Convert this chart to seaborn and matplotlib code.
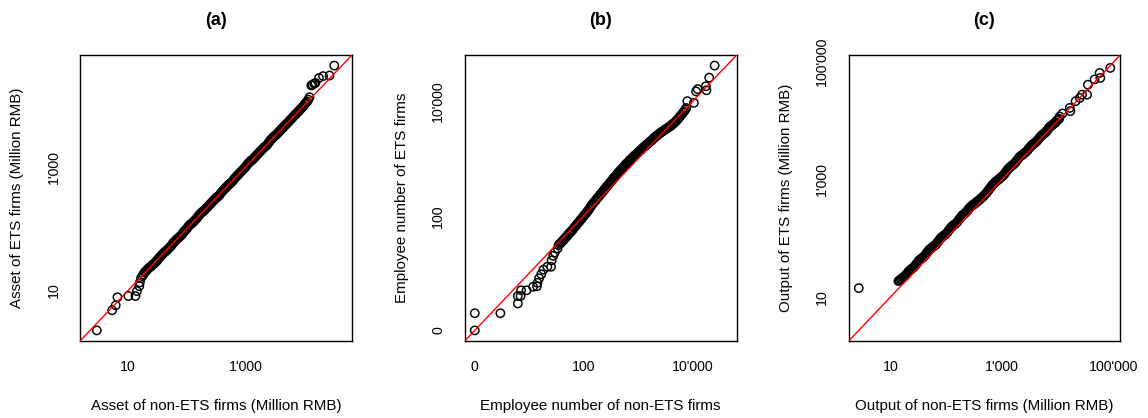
import numpy as np
import pandas as pd
import matplotlib
matplotlib.use("Agg")
import matplotlib.pyplot as plt
import seaborn as sns

sns.set_style("white")
plt.rcParams["font.family"] = ["Liberation Sans", "DejaVu Sans"]
plt.rcParams["text.color"] = "black"
plt.rcParams["axes.labelcolor"] = "black"

# Quantile pairs (log10 scale): non-ETS firms on x, ETS firms on y

# (a) Assets, million RMB
asset_non_ets = [
    0.47, 0.73, 0.79, 0.82, 1.005, 1.125, 1.15, 1.19, 1.20,
    1.22, 1.24, 1.26, 1.28, 1.30, 1.32, 1.34, 1.36, 1.38, 1.40,
    1.42, 1.44, 1.46, 1.48, 1.50, 1.52, 1.54, 1.56, 1.58, 1.60,
    1.62, 1.64, 1.66, 1.68, 1.70, 1.72, 1.74, 1.76, 1.78, 1.80,
    1.82, 1.84, 1.86, 1.88, 1.90, 1.92, 1.94, 1.96, 1.98, 2.00,
    2.02, 2.04, 2.06, 2.08, 2.10, 2.12, 2.14, 2.16, 2.18, 2.20,
    2.22, 2.24, 2.26, 2.28, 2.30, 2.32, 2.34, 2.36, 2.38, 2.40,
    2.42, 2.44, 2.46, 2.48, 2.50, 2.52, 2.54, 2.56, 2.58, 2.60,
    2.62, 2.64, 2.66, 2.68, 2.70, 2.72, 2.74, 2.76, 2.78, 2.80,
    2.82, 2.84, 2.86, 2.88, 2.90, 2.92, 2.94, 2.96, 2.98, 3.00,
    3.02, 3.04, 3.06, 3.08, 3.10, 3.12, 3.14, 3.16, 3.18, 3.20,
    3.22, 3.24, 3.26, 3.28, 3.30, 3.32, 3.34, 3.36, 3.38, 3.40,
    3.42, 3.44, 3.46, 3.48, 3.50, 3.52, 3.54, 3.56, 3.58, 3.60,
    3.62, 3.64, 3.66, 3.68, 3.70, 3.72, 3.74, 3.76, 3.78, 3.80,
    3.82, 3.84, 3.86, 3.88, 3.90, 3.92, 3.94, 3.96, 3.98, 4.00,
    4.02, 4.04, 4.06, 4.08,
    4.11, 4.13, 4.16, 4.18, 4.24, 4.31, 4.42, 4.50,
]
asset_ets = [
    0.355, 0.68, 0.76, 0.89, 0.91, 0.91, 0.99, 1.07, 1.13,
    1.20, 1.23, 1.26, 1.29, 1.31, 1.33, 1.35, 1.37, 1.38, 1.40,
    1.42, 1.43, 1.45, 1.47, 1.49, 1.52, 1.54, 1.56, 1.58, 1.60,
    1.62, 1.63, 1.65, 1.67, 1.69, 1.71, 1.73, 1.76, 1.78, 1.80,
    1.82, 1.84, 1.85, 1.87, 1.89, 1.91, 1.94, 1.96, 1.98, 2.00,
    2.03, 2.05, 2.07, 2.08, 2.10, 2.12, 2.14, 2.16, 2.18, 2.21,
    2.23, 2.25, 2.27, 2.28, 2.30, 2.32, 2.34, 2.36, 2.38, 2.40,
    2.42, 2.44, 2.46, 2.48, 2.50, 2.51, 2.53, 2.55, 2.58, 2.60,
    2.62, 2.64, 2.66, 2.68, 2.70, 2.72, 2.73, 2.75, 2.77, 2.80,
    2.82, 2.84, 2.86, 2.88, 2.90, 2.92, 2.94, 2.96, 2.98, 3.00,
    3.03, 3.05, 3.07, 3.09, 3.10, 3.12, 3.14, 3.16, 3.18, 3.20,
    3.22, 3.24, 3.26, 3.28, 3.30, 3.32, 3.33, 3.35, 3.38, 3.40,
    3.43, 3.45, 3.47, 3.49, 3.50, 3.52, 3.54, 3.56, 3.58, 3.60,
    3.62, 3.64, 3.66, 3.68, 3.70, 3.72, 3.74, 3.76, 3.78, 3.80,
    3.82, 3.84, 3.86, 3.88, 3.90, 3.92, 3.94, 3.96, 3.98, 4.01,
    4.03, 4.05, 4.08, 4.12,
    4.31, 4.32, 4.34, 4.35, 4.43, 4.46, 4.47, 4.63,
]

# (b) Employee numbers
employee_non_ets = [
    0.0, 0.0, 0.47, 0.79, 0.79, 0.84, 0.85, 0.95, 1.07, 1.14,
    1.15, 1.18, 1.22, 1.26, 1.33, 1.40, 1.41, 1.44, 1.47, 1.52,
    1.54, 1.56, 1.58, 1.60, 1.62, 1.64, 1.66, 1.68, 1.70, 1.72,
    1.74, 1.76, 1.78, 1.80, 1.82, 1.84, 1.86, 1.88, 1.90, 1.92,
    1.94, 1.96, 1.98, 2.00, 2.02, 2.04, 2.06, 2.08, 2.10, 2.12,
    2.14, 2.16, 2.18, 2.20, 2.22, 2.24, 2.26, 2.28, 2.30, 2.32,
    2.34, 2.36, 2.38, 2.40, 2.42, 2.44, 2.46, 2.48, 2.50, 2.52,
    2.54, 2.56, 2.58, 2.60, 2.62, 2.64, 2.66, 2.68, 2.70, 2.72,
    2.74, 2.76, 2.78, 2.80, 2.82, 2.84, 2.86, 2.88, 2.90, 2.92,
    2.94, 2.96, 2.98, 3.00, 3.02, 3.04, 3.06, 3.08, 3.10, 3.12,
    3.14, 3.16, 3.18, 3.20, 3.22, 3.24, 3.26, 3.28, 3.30, 3.32,
    3.34, 3.36, 3.38, 3.40, 3.42, 3.44, 3.46, 3.48, 3.50, 3.52,
    3.54, 3.56, 3.58, 3.60, 3.62, 3.64, 3.66, 3.68, 3.70, 3.72,
    3.74, 3.76, 3.78, 3.80, 3.82, 3.84, 3.86, 3.88,
    3.90, 4.02, 4.06, 4.09, 4.24, 4.25, 4.30, 4.40,
]
employee_ets = [
    0.0, 0.30, 0.30, 0.47, 0.60, 0.60, 0.70, 0.70, 0.76, 0.77,
    0.83, 0.91, 0.98, 1.06, 1.11, 1.11, 1.22, 1.30, 1.36, 1.43,
    1.49, 1.51, 1.53, 1.55, 1.57, 1.59, 1.62, 1.63, 1.65, 1.68,
    1.70, 1.72, 1.74, 1.76, 1.79, 1.81, 1.83, 1.86, 1.88, 1.90,
    1.93, 1.95, 1.97, 2.00, 2.02, 2.04, 2.07, 2.09, 2.12, 2.15,
    2.18, 2.20, 2.23, 2.25, 2.27, 2.30, 2.32, 2.34, 2.37, 2.39,
    2.41, 2.44, 2.46, 2.48, 2.51, 2.53, 2.55, 2.58, 2.60, 2.62,
    2.65, 2.67, 2.69, 2.71, 2.74, 2.76, 2.78, 2.80, 2.82, 2.84,
    2.86, 2.89, 2.91, 2.92, 2.94, 2.97, 2.98, 3.00, 3.02, 3.04,
    3.06, 3.07, 3.09, 3.11, 3.13, 3.14, 3.16, 3.18, 3.20, 3.21,
    3.23, 3.25, 3.26, 3.28, 3.30, 3.31, 3.33, 3.35, 3.37, 3.38,
    3.40, 3.41, 3.43, 3.44, 3.46, 3.47, 3.48, 3.50, 3.51, 3.52,
    3.53, 3.55, 3.56, 3.57, 3.59, 3.61, 3.62, 3.64, 3.66, 3.68,
    3.70, 3.73, 3.75, 3.77, 3.80, 3.82, 3.85, 3.88,
    4.00, 3.97, 4.17, 4.21, 4.26, 4.19, 4.41, 4.62,
]

# (c) Output, million RMB
output_non_ets = [
    0.43,
    1.14, 1.16, 1.18, 1.20, 1.22, 1.24, 1.26, 1.28, 1.30, 1.32,
    1.34, 1.36, 1.38, 1.40, 1.42, 1.44, 1.46, 1.48, 1.50, 1.52,
    1.54, 1.56, 1.58, 1.60, 1.62, 1.64, 1.66, 1.68, 1.70, 1.72,
    1.74, 1.76, 1.78, 1.80, 1.82, 1.84, 1.86, 1.88, 1.90, 1.92,
    1.94, 1.96, 1.98, 2.00, 2.02, 2.04, 2.06, 2.08, 2.10, 2.12,
    2.14, 2.16, 2.18, 2.20, 2.22, 2.24, 2.26, 2.28, 2.30, 2.32,
    2.34, 2.36, 2.38, 2.40, 2.42, 2.44, 2.46, 2.48, 2.50, 2.52,
    2.54, 2.56, 2.58, 2.60, 2.62, 2.64, 2.66, 2.68, 2.70, 2.72,
    2.74, 2.76, 2.78, 2.80, 2.82, 2.84, 2.86, 2.88, 2.90, 2.92,
    2.94, 2.96, 2.98, 3.00, 3.02, 3.04, 3.06, 3.08, 3.10, 3.12,
    3.14, 3.16, 3.18, 3.20, 3.22, 3.24, 3.26, 3.28, 3.30, 3.32,
    3.34, 3.36, 3.38, 3.40, 3.42, 3.44, 3.46, 3.48, 3.50, 3.52,
    3.54, 3.56, 3.58, 3.60, 3.62, 3.64, 3.66, 3.68, 3.70, 3.72,
    3.74, 3.76, 3.78, 3.80, 3.82, 3.84, 3.86, 3.88, 3.90, 3.92,
    3.94, 3.96, 3.98, 4.00, 4.02,
    4.03, 4.08, 4.21, 4.22, 4.315, 4.39, 4.43, 4.52, 4.535, 4.655,
    4.745, 4.757, 4.935,
]
output_ets = [
    1.15,
    1.27, 1.28, 1.30, 1.31, 1.33, 1.34, 1.36, 1.38, 1.40, 1.43,
    1.45, 1.46, 1.48, 1.49, 1.51, 1.53, 1.56, 1.58, 1.61, 1.63,
    1.64, 1.66, 1.67, 1.69, 1.71, 1.74, 1.76, 1.79, 1.81, 1.82,
    1.84, 1.85, 1.87, 1.88, 1.90, 1.93, 1.95, 1.98, 2.00, 2.02,
    2.03, 2.05, 2.06, 2.08, 2.10, 2.13, 2.15, 2.18, 2.20, 2.21,
    2.23, 2.24, 2.26, 2.28, 2.31, 2.33, 2.36, 2.38, 2.40, 2.41,
    2.43, 2.45, 2.47, 2.50, 2.52, 2.54, 2.55, 2.57, 2.58, 2.60,
    2.61, 2.63, 2.64, 2.66, 2.68, 2.69, 2.71, 2.73, 2.75, 2.77,
    2.80, 2.82, 2.85, 2.87, 2.90, 2.92, 2.94, 2.96, 2.97, 2.99,
    3.00, 3.02, 3.04, 3.05, 3.07, 3.09, 3.12, 3.14, 3.17, 3.19,
    3.21, 3.22, 3.24, 3.25, 3.27, 3.29, 3.32, 3.34, 3.37, 3.39,
    3.40, 3.42, 3.43, 3.45, 3.46, 3.48, 3.50, 3.53, 3.55, 3.57,
    3.59, 3.60, 3.62, 3.63, 3.65, 3.67, 3.70, 3.72, 3.74, 3.76,
    3.77, 3.79, 3.80, 3.83, 3.85, 3.88, 3.90, 3.91, 3.93, 3.94,
    3.96, 3.97, 4.00, 4.02, 4.03,
    4.07, 4.12, 4.215, 4.16, 4.33, 4.385, 4.44, 4.44, 4.61, 4.70,
    4.81, 4.725, 4.895,
]

titles = ["(a)", "(b)", "(c)"]
x_labels = ["Asset of non-ETS firms (Million RMB)",
            "Employee number of non-ETS firms",
            "Output of non-ETS firms (Million RMB)"]
y_labels = ["Asset of ETS firms (Million RMB)",
            "Employee number of ETS firms",
            "Output of ETS firms (Million RMB)"]
tick_pos = [[1, 3], [0, 2, 4], [1, 3, 5]]
tick_text = [["10", "1'000"], ["0", "100", "10'000"], ["10", "1'000", "100'000"]]

series = [(asset_non_ets, asset_ets),
          (employee_non_ets, employee_ets),
          (output_non_ets, output_ets)]

W, H = 1148, 418
fig = plt.figure(figsize=(W / 100, H / 100), dpi=100)
fig.patch.set_facecolor("white")
boxes = [(80, 352), (464.7, 736.7), (848.7, 1120.3)]
top, bottom = 55, 341

for i, (xs, ys) in enumerate(series):
    l, r = boxes[i]
    ax = fig.add_axes([l / W, 1 - bottom / H, (r - l) / W, (bottom - top) / H])
    df = pd.DataFrame({"non_ets": xs, "ets": ys})
    sns.scatterplot(data=df, x="non_ets", y="ets", ax=ax, s=36,
                    facecolors="none", edgecolor="black", linewidth=1.05,
                    zorder=2)
    lo = min(min(xs), min(ys))
    hi = max(max(xs), max(ys))
    pad = 0.04 * (hi - lo)
    ax.set_xlim(lo - pad, hi + pad)
    ax.set_ylim(lo - pad, hi + pad)
    ax.axline((0, 0), slope=1, color="#ff0000", lw=1.0, zorder=3)

    ax.set_xticks(tick_pos[i])
    ax.set_xticklabels(tick_text[i])
    ax.set_yticks(tick_pos[i])
    ax.set_yticklabels(tick_text[i], rotation=90, va="center")
    ax.tick_params(axis="both", direction="out", length=5, width=1.0,
                   labelsize=10.2, colors="black", pad=9)
    for sp in ax.spines.values():
        sp.set_visible(True)
        sp.set_color("black")
        sp.set_linewidth(1.0)

    ax.set_xlabel(x_labels[i], fontsize=10.9)
    ax.xaxis.label.set_va("center")
    ax.xaxis.set_label_coords(0.5, -0.227)
    ax.set_ylabel(y_labels[i], fontsize=10.9)
    ax.yaxis.label.set_va("center")
    ax.yaxis.set_label_coords(-0.23, 0.5)

    ax.text(0.5, 1.12, titles[i], transform=ax.transAxes, ha="center",
            va="center", fontsize=13, fontweight="bold")

fig.savefig("out.png", dpi=100, facecolor="white")
